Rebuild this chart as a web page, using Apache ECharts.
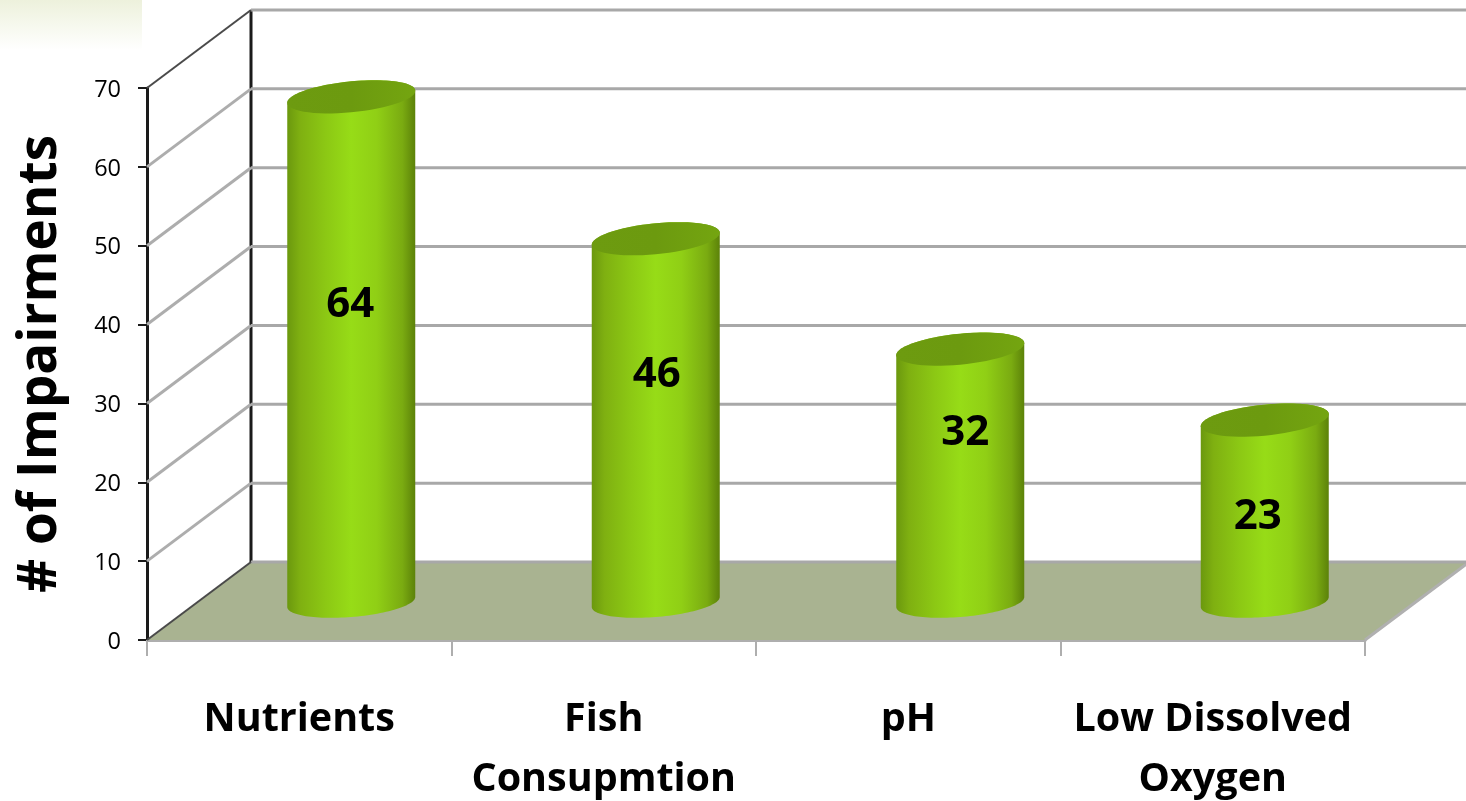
<!DOCTYPE html>
<html><head><meta charset="utf-8">
<style>html,body{margin:0;padding:0;background:#fff;overflow:hidden}#c{width:1466px;height:801px}</style>
<script src="https://cdn.jsdelivr.net/npm/echarts@6/dist/echarts.min.js"></script>
</head><body><div id="c"></div>
<script>
var categories = ['Nutrients', 'Fish\nConsupmtion', 'pH', 'Low Dissolved\nOxygen'];
var impairments = [64, 46, 32, 23];
var yTicks = [0, 10, 20, 30, 40, 50, 60, 70];
var yAxisTitle = '# of Impairments';

var FONT = '"Open Sans", sans-serif';
var DEPTH_X = 104, DEPTH_Y = 78;
var BAR_W = 128;
var LABEL_SHIFT = [[-1, -44], [1, -45], [5, -43], [-7, 6]];

function ellipsePts(cx, cy, a, b, tilt, from, to) {
  var pts = [], n = 60;
  for (var i = 0; i <= n; i++) {
    var t = from + (to - from) * i / n;
    pts.push([cx + a * Math.cos(t), cy + b * Math.sin(t) - tilt * Math.cos(t)]);
  }
  return pts;
}

var sideGradient = {
  type: 'linear', x: 0, y: 0, x2: 1, y2: 0,
  colorStops: [
    { offset: 0, color: '#6b980e' }, { offset: 0.1, color: '#7fb011' },
    { offset: 0.3, color: '#8cc814' }, { offset: 0.5, color: '#97dc17' },
    { offset: 0.7, color: '#90cf15' }, { offset: 0.9, color: '#7aab11' },
    { offset: 1, color: '#5c8209' }
  ]
};

function renderWalls(params, api) {
  var v = api.value(0);
  var cs = params.coordSys;
  var y = api.coord([0, v])[1];
  var L = cs.x, R = cs.x + cs.width;
  var children = [];
  var edge = (v === 0 || v === 70);
  if (v === 0) {
    children.push({ type: 'polygon', shape: { points: [[L, y], [R, y], [R + DEPTH_X, y - DEPTH_Y], [L + DEPTH_X, y - DEPTH_Y]] },
      style: { fill: '#a9b391', stroke: null } });
    children.push({ type: 'line', shape: { x1: R, y1: y, x2: R + DEPTH_X, y2: y - DEPTH_Y }, style: { stroke: '#b0b0b0', lineWidth: 3 } });
    children.push({ type: 'line', shape: { x1: L + DEPTH_X, y1: cs.y - DEPTH_Y, x2: L + DEPTH_X, y2: y - DEPTH_Y }, style: { stroke: '#1a1a1a', lineWidth: 3 } });
  }
  children.push({ type: 'line', shape: { x1: L + DEPTH_X, y1: y - DEPTH_Y, x2: R + DEPTH_X, y2: y - DEPTH_Y },
    style: { stroke: '#a8a8a8', lineWidth: 3 } });
  children.push({ type: 'line', shape: { x1: L, y1: y, x2: L + DEPTH_X, y2: y - DEPTH_Y },
    style: { stroke: edge ? '#4a4a4a' : '#adadad', lineWidth: edge ? 2 : 3 } });
  return { type: 'group', children: children };
}

function renderBar(params, api) {
  var i = api.value(0), v = api.value(1);
  var base = api.coord([i, 0]), top = api.coord([i, v]);
  var cx = base[0] + DEPTH_X / 2, a = BAR_W / 2;
  var topY = top[1] - DEPTH_Y / 2 + 0.5, botY = base[1] - DEPTH_Y / 2 + 1;
  var front = ellipsePts(cx, botY, a, 15, 5, 0, Math.PI);
  var backTop = ellipsePts(cx, topY, a, 15.5, 6, Math.PI, 2 * Math.PI);
  var shift = LABEL_SHIFT[params.dataIndex];
  return { type: 'group', children: [
    { type: 'polygon', shape: { points: front.concat(backTop) }, style: { fill: sideGradient } },
    { type: 'polygon', shape: { points: ellipsePts(cx, topY, a, 15.5, 6, 0, 2 * Math.PI) },
      style: { fill: { type: 'linear', x: 0, y: 0, x2: 1, y2: 0, colorStops: [
        { offset: 0, color: '#6d9b10' }, { offset: 0.5, color: '#6c9a0f' }, { offset: 1, color: '#74a510' }] } } },
    { type: 'text', x: cx + shift[0], y: (topY + botY) / 2 + shift[1],
      style: { text: String(v), fill: '#000', font: 'bold 42px ' + FONT, align: 'center', verticalAlign: 'middle' } }
  ] };
}

var chart = echarts.init(document.getElementById('c'), null, { renderer: 'canvas' });
chart.setOption({
  animation: false,
  backgroundColor: '#fff',
  graphic: [{ type: 'rect', left: 0, top: 0, shape: { width: 142, height: 50 }, silent: true,
    style: { fill: { type: 'linear', x: 0, y: 0, x2: 0, y2: 1, colorStops: [{ offset: 0, color: '#edf1dc' }, { offset: 1, color: '#ffffff' }] } } }],
  grid: { left: 147, right: 101, top: 88, bottom: 161, containLabel: false, outerBoundsMode: 'none' },
  xAxis: {
    type: 'category', data: categories, boundaryGap: true,
    axisLine: { lineStyle: { color: '#aeaeae', width: 3 } },
    axisTick: { show: true, alignWithLabel: false, length: 16, lineStyle: { color: '#aeaeae', width: 2 } },
    axisLabel: { interval: 0, margin: 50, color: '#000', fontFamily: FONT, fontWeight: 'bold', fontSize: 39.5, lineHeight: 60 },
    splitLine: { show: false }
  },
  yAxis: {
    type: 'value', min: 0, max: 70, interval: 10,
    name: yAxisTitle, nameLocation: 'middle', nameRotate: 90, nameGap: 80,
    nameTextStyle: { color: '#000', fontFamily: FONT, fontWeight: 'bold', fontSize: 53 },
    axisLine: { show: true, lineStyle: { color: '#1a1a1a', width: 3 } },
    axisTick: { show: true, length: 9, lineStyle: { color: '#1a1a1a', width: 2 } },
    axisLabel: { margin: 26, formatter: '{t|{value}}',
      rich: { t: { color: '#000', fontFamily: FONT, fontSize: 23.5, padding: [4, 0, 0, 0] } } },
    splitLine: { show: false }
  },
  series: [
    { type: 'custom', coordinateSystem: 'cartesian2d', clip: false, silent: true, z: 1,
      data: yTicks.map(function (t) { return [t]; }), encode: { y: 0 }, renderItem: renderWalls },
    { type: 'custom', coordinateSystem: 'cartesian2d', clip: false, z: 3,
      data: impairments.map(function (v, i) { return [i, v]; }), encode: { x: 0, y: 1 }, renderItem: renderBar }
  ]
});
</script></body></html>
